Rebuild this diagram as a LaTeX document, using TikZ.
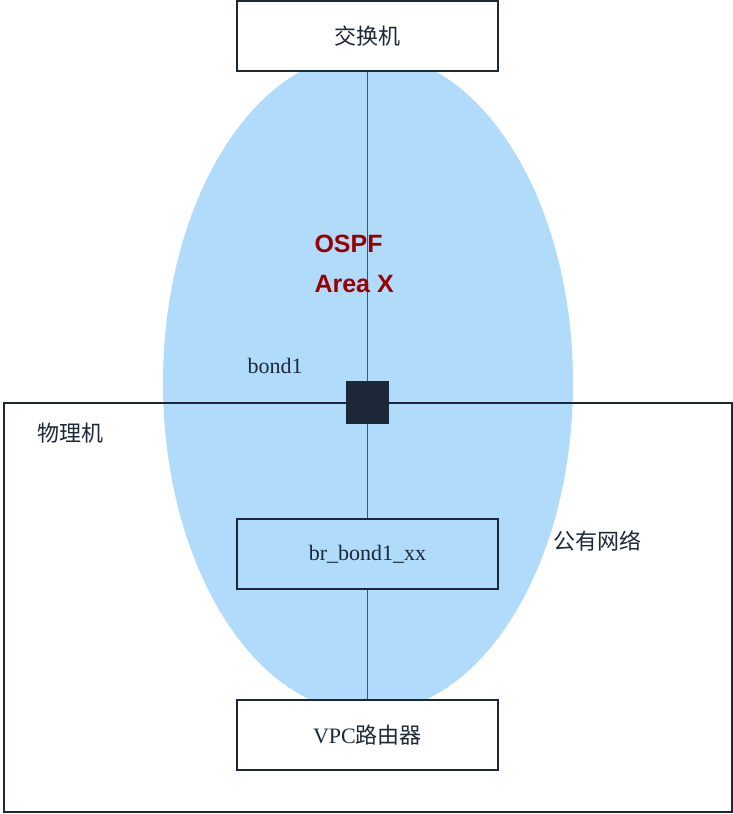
\documentclass[tikz,border=0pt]{standalone}
\usepackage{fontspec}
\newfontfamily\cjk{Noto Sans CJK SC}
\newfontfamily\sans{Liberation Sans}
\newfontfamily\ser{Liberation Serif}
\definecolor{ell}{HTML}{B0DBFB}
\definecolor{ln}{HTML}{1F5F8F}
\definecolor{dk}{HTML}{1C2838}
\definecolor{ospf}{HTML}{990000}
\begin{document}
\begin{tikzpicture}[x=1pt,y=-1pt,
  box/.style={draw=dk,line width=1.2pt,minimum width=261pt,minimum height=70pt,inner sep=0pt},
  wbox/.style={box,fill=white},
  txt/.style={text=dk,font=\cjk\fontsize{22}{26}\selectfont}]
\useasboundingbox (0,0) rectangle (733,814);
\draw[dk,line width=1.2pt] (4,403) rectangle (732,812);
\fill[ell] (368,383) ellipse [x radius=205, y radius=330];
\draw[dk,line width=1.2pt] (4,403) -- (732,403);
\node[wbox] (sw) at (367.5,36) {};
\node[txt] at (sw) {交换机};
\node[box] (br) at (367.5,554) {};
\node[text=dk,font=\ser\fontsize{22}{26}\selectfont] at (br) {br\_bond1\_xx};
\node[wbox] (vpc) at (367.5,735) {};
\node[text=dk,font=\fontsize{22}{26}\selectfont] at (vpc) {\ser VPC\cjk 路由器};
\node[fill=dk,minimum size=43pt,inner sep=0pt] (bond) at (367.5,402.5) {};
\draw[ln,line width=1pt] (sw.south) -- (bond.north);
\draw[ln,line width=1pt] (bond.south) -- (br.north);
\draw[ln,line width=1pt] (br.south) -- (vpc.north);
\node[text=dk,font=\ser\fontsize{22}{26}\selectfont] (bl) at (275,366) {bond1};
\node[txt] (pm) at (70,433) {物理机};
\node[txt] (pn) at (597,541) {公有网络};
\node[anchor=west,align=left,text=ospf,font=\sans\bfseries\fontsize{25}{40}\selectfont] (os) at (311,264) {OSPF\\Area X};
\end{tikzpicture}
\end{document}
